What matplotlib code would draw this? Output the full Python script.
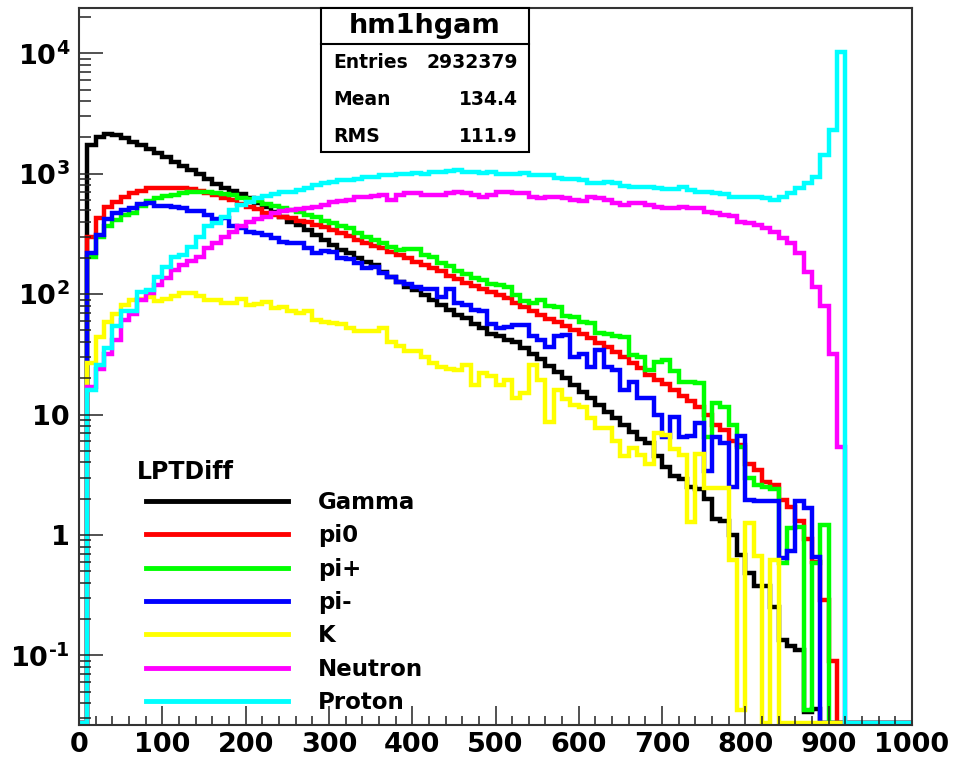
"""LPTDiff spectra per particle species (ROOT-style log histogram, hm1hgam)."""
import matplotlib
matplotlib.use("Agg")
import matplotlib.pyplot as plt
import numpy as np
from matplotlib.lines import Line2D
from matplotlib.patches import Rectangle
from matplotlib.ticker import LogLocator, MultipleLocator, NullFormatter

plt.rcParams["font.family"] = "DejaVu Sans"
plt.rcParams["font.weight"] = "bold"
plt.rcParams["mathtext.fontset"] = "dejavusans"
plt.rcParams["mathtext.default"] = "bf"

# 100 bins of width 10 from 0 to 1000
EDGES = np.arange(0, 1001, 10)

gamma = [0, 1735, 2032, 2128, 2100, 1972, 1849, 1735, 1597, 1479,
         1371, 1261, 1160, 1073, 990, 906, 823, 759, 724, 679,
         626, 575, 533, 484, 440, 400, 376, 341, 310, 282,
         257, 233, 219, 199, 186, 175, 154, 140, 126, 115,
         108, 98, 89, 81, 74, 67, 63, 57, 52, 47,
         45, 42, 40, 36, 32, 28.8, 25.3, 22.7, 20, 17.6,
         15.5, 13.6, 12, 10.6, 9.3, 8.2, 7.2, 6.3, 5.8, 4.5,
         3.7, 3.1, 2.9, 2.5, 2.4, 2.0, 1.35, 1.3, 1.0, 0.68,
         0.48, 0.38, 0.38, 0.25, 0.135, 0.12, 0.11, 0.034, 0.036, 0,
         0, 0, 0, 0, 0, 0, 0, 0, 0, 0]
pi0 = [0, 300, 427, 530, 586, 638, 689, 724, 767, 766,
       766, 760, 755, 745, 725, 690, 670, 625, 600, 565,
       530, 505, 475, 455, 440, 425, 408, 395, 378, 360,
       340, 320, 302, 282, 265, 252, 240, 225, 211, 200,
       186, 176, 164, 155, 142, 134, 124, 117, 110, 104,
       98, 92.5, 84, 78, 72.5, 67, 62, 58.5, 54.7, 50,
       46.8, 43, 39.6, 36.3, 32.9, 29.9, 27, 24.2, 21.5, 19.5,
       17.8, 16, 14.2, 13, 11.5, 9.9, 8.2, 7.5, 6.0, 5.6,
       3.9, 3.46, 2.77, 2.6, 1.95, 1.72, 1.3, 0.92, 0.6, 0.29,
       0.089, 0, 0, 0, 0, 0, 0, 0, 0, 0]
pi_plus = [0, 205, 300, 369, 410, 455, 470, 540, 590, 625,
           650, 670, 690, 700, 705, 705, 690, 675, 660, 630,
           615, 590, 560, 540, 520, 500, 480, 455, 440, 405,
           390, 370, 355, 320, 300, 280, 265, 245, 233, 238,
           235, 210, 205, 180, 170, 155, 148, 135, 131, 122,
           118, 115, 98, 88, 85, 89, 79, 78, 66, 64,
           59, 58, 48, 47, 45, 44, 31, 30, 23.4, 27.5,
           28.5, 22.8, 18.8, 18.8, 18.3, 6.5, 12.4, 11.6, 8.2, 5.4,
           3.0, 2.6, 2.5, 2.4, 0.59, 1.14, 1.16, 0.035, 0.59, 1.2,
           0, 0, 0, 0, 0, 0, 0, 0, 0, 0]
pi_minus = [0, 219, 310, 418, 468, 500, 520, 560, 570, 543,
            540, 525, 515, 495, 495, 455, 418, 425, 365, 355,
            330, 320, 310, 295, 272, 265, 265, 240, 219, 228,
            222, 200, 196, 180, 164, 168, 150, 140, 126, 121,
            115, 110, 110, 95, 110, 84, 82, 74, 72, 57,
            52, 53.7, 55, 55, 44.5, 41.6, 36.7, 44.5, 45.6, 30,
            32, 25, 34.3, 25, 23.4, 16, 18.8, 13.6, 13.6, 9.9,
            6.5, 9.6, 6.5, 6.6, 8.5, 3.4, 6.5, 5.8, 2.5, 6.6,
            1.95, 1.9, 1.9, 1.9, 0.64, 0.73, 1.9, 1.68, 0.66, 0,
            0, 0, 0, 0, 0, 0, 0, 0, 0, 0]
kaon = [0, 26.7, 44, 59, 69, 81, 89, 91, 95, 87,
        91, 96, 102, 102, 96, 89, 89, 85, 85, 91,
        81, 83, 86, 76, 78, 72, 70, 72, 61, 59,
        58, 56, 52, 49, 49, 49, 52, 40, 37, 34,
        34, 30, 26.7, 25, 24, 23.6, 26, 17.6, 22, 21,
        17.6, 19.4, 13.6, 15, 25.8, 19.4, 8.7, 16, 13.4, 12,
        11.6, 9.3, 7.7, 7.7, 6.0, 4.5, 5.3, 4.6, 3.9, 7.0,
        6.7, 5.2, 4.6, 1.27, 4.7, 2.44, 2.44, 2.44, 0.62, 0.035,
        1.25, 0.67, 0, 0.62, 0, 0, 0, 0, 0, 0,
        0, 0, 0, 0, 0, 0, 0, 0, 0, 0]
neutron = [0, 17, 24, 32, 41.6, 61, 69, 89, 102, 120,
           135, 159, 175, 190, 205, 240, 265, 300, 330, 365,
           400, 418, 440, 468, 490, 500, 505, 515, 530, 550,
           585, 595, 600, 645, 645, 650, 660, 600, 660, 690,
           690, 660, 665, 665, 690, 700, 690, 665, 645, 665,
           710, 710, 690, 690, 645, 630, 645, 645, 630, 600,
           590, 645, 630, 600, 570, 555, 570, 570, 555, 533,
           520, 520, 533, 520, 517, 484, 475, 457, 447, 400,
           390, 376, 352, 330, 291, 265, 219, 154, 115, 80,
           32, 5.4, 0, 0, 0, 0, 0, 0, 0, 0]
proton = [0, 16, 26, 36, 54, 72, 73, 105, 108, 140,
          169, 205, 210, 248, 300, 365, 388, 440, 500, 550,
          585, 625, 655, 680, 700, 710, 733, 767, 808, 830,
          860, 880, 890, 905, 946, 946, 970, 970, 990, 1000,
          1010, 1000, 1040, 1040, 1060, 1070, 1040, 1040, 1010, 1040,
          1000, 1000, 1000, 1010, 980, 975, 970, 915, 910, 905,
          890, 835, 845, 860, 835, 795, 780, 780, 780, 760,
          745, 745, 770, 730, 710, 700, 690, 680, 647, 635,
          647, 640, 625, 605, 635, 690, 760, 835, 946, 1430,
          2310, 10300, 0, 0, 0, 0, 0, 0, 0, 0]

labels = ["Gamma", "pi0", "pi+", "pi-", "K", "Neutron", "Proton"]
colors = ["#000000", "#ff0000", "#00ff00", "#0000ff", "#ffff00", "#ff00ff", "#00ffff"]
series = [gamma, pi0, pi_plus, pi_minus, kaon, neutron, proton]

stat_title = "hm1hgam"
stat_names = ["Entries", "Mean", "RMS"]
stat_values = ["2932379", "134.4", "111.9"]

ytick_vals = [0.1, 1, 10, 100, 1000, 10000]
ytick_labels = [r"$10^{\text{-}1}$", "1", "10", r"$10^{2}$", r"$10^{3}$", r"$10^{4}$"]

YMIN, YMAX = 0.0264, 2.38e4
W, H = 955, 759
L, R, T, B = 79, 912, 8, 725  # frame in pixels


def main():
    fig = plt.figure(figsize=(W / 100, H / 100), dpi=100)
    ax = fig.add_axes([L / W, (H - B) / H, (R - L) / W, (B - T) / H])

    # ROOT draws empty bins on the lower edge of a log pad
    floor = YMIN * 1.04
    for vals, col, lab in zip(series, colors, labels):
        v = np.asarray(vals, float)
        v = np.where(v > 0, v, floor)
        ax.stairs(v, EDGES, baseline=None, color=col, lw=3.2, label=lab)

    ax.set_yscale("log")
    ax.set_xlim(0, 1000)
    ax.set_ylim(YMIN, YMAX)
    ax.set_xticks(np.arange(0, 1001, 100))
    ax.xaxis.set_minor_locator(MultipleLocator(20))
    ax.set_yticks(ytick_vals, ytick_labels)
    ax.yaxis.set_minor_locator(LogLocator(base=10, subs=np.arange(2, 10)))
    ax.yaxis.set_minor_formatter(NullFormatter())

    ax.tick_params(which="both", direction="in", colors="#222222", width=1.1,
                   labelsize=19.5, labelcolor="black", top=False, right=False)
    ax.tick_params(axis="y", which="major", length=17, pad=6.5)
    ax.tick_params(axis="y", which="minor", length=8.6)
    ax.tick_params(axis="x", which="major", length=14, pad=5)
    ax.tick_params(axis="x", which="minor", length=6.5)
    for sp in ax.spines.values():
        sp.set_color("#333333"); sp.set_linewidth(1.5)

    # stats box
    ax_w, ax_h = R - L, B - T
    bx0, bx1 = (321 - L) / ax_w, (529 - L) / ax_w
    by0, bdiv = (B - 152) / ax_h, (B - 44) / ax_h
    ax.add_patch(Rectangle((bx0, by0), bx1 - bx0, 1 - by0, transform=ax.transAxes,
                           facecolor="white", edgecolor="black", lw=1.5, zorder=5,
                           clip_on=False))
    ax.plot([bx0, bx1], [bdiv, bdiv], transform=ax.transAxes, color="black", lw=1.5,
            zorder=6)
    ax.text((bx0 + bx1) / 2, (1 + bdiv) / 2, stat_title, transform=ax.transAxes,
            ha="center", va="center", fontsize=19.5, zorder=7)
    for k, (nm, val) in enumerate(zip(stat_names, stat_values)):
        yy = (B - (63 + 36.5 * k)) / ax_h
        ax.text((333 - L) / ax_w, yy, nm, transform=ax.transAxes, ha="left",
                va="center", fontsize=13.5, zorder=7)
        ax.text((518 - L) / ax_w, yy, val, transform=ax.transAxes, ha="right",
                va="center", fontsize=13.5, zorder=7)

    # legend
    ax.text((137 - L) / ax_w, (B - 472) / ax_h, "LPTDiff", transform=ax.transAxes,
            ha="left", va="center", fontsize=17)
    handles = [Line2D([], [], color=c, lw=3.5) for c in colors]
    ax.legend(handles, labels, loc="upper left",
              bbox_to_anchor=((146 - L) / ax_w, (B - 491) / ax_h),
              frameon=False, borderpad=0, borderaxespad=0, handlelength=6.2,
              handletextpad=1.3, labelspacing=0.45, prop={"size": 16.5, "weight": "bold"})

    fig.savefig("out.png", facecolor="white")
    plt.close(fig)


if __name__ == "__main__":
    main()
